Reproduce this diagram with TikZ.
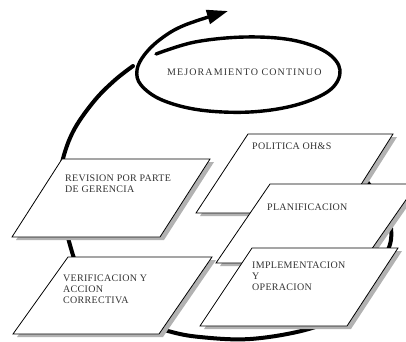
\documentclass[tikz,border=0pt]{standalone}
\usepackage{fontspec}
\setmainfont{Liberation Serif}
\newfontfamily\boxfont[LetterSpace=3]{Liberation Serif}
\newfontfamily\widefont[LetterSpace=11]{Liberation Serif}
\usetikzlibrary{arrows.meta}
\begin{document}
\begin{tikzpicture}[x=1pt,y=-1pt,
  slantbox/.style={draw=black, line width=0.8pt, fill=white},
  boxshadow/.style={fill=black!30},
  boxtext/.style={inner sep=0pt, anchor=north west, align=left, text=black!80,
    font=\boxfont\fontsize{10}{10.7}\selectfont},
  arcline/.style={line width=4pt, line cap=round, line join=round}
]
\clip (0,0) rectangle (406,341);
% big cycle arc (behind the boxes)
\draw[arcline] plot[smooth, tension=0.6] coordinates {
  (350,160) (368,183) (384,205) (391,228) (388,250) (368,285) (340,315)
  (305,330) (250,339) (200,337) (168,331) (130,318) (100,298) (80,272)
  (70,245) (62,210) (60,180) (64,155) (75,128) (95,100) (115,80) (133,66)};
% POLITICA
\fill[boxshadow, shift={(4,3)}] (248,134) -- (393,134) -- (343,213) -- (196,213) -- cycle;
\draw[slantbox] (248,134) -- (393,134) -- (343,213) -- (196,213) -- cycle;
\node[boxtext] (pol) at (252,143) {POLITICA OH\&S};
% PLANIFICACION
\fill[boxshadow, shift={(4,3)}] (270,184) -- (417,184) -- (362,263) -- (216,263) -- cycle;
\draw[slantbox] (270,184) -- (417,184) -- (362,263) -- (216,263) -- cycle;
\node[boxtext] (plan) at (267,204) {PLANIFICACION};
% IMPLEMENTACION
\fill[boxshadow, shift={(4,3)}] (252,248) -- (398,248) -- (347,326) -- (200,326) -- cycle;
\draw[slantbox] (252,248) -- (398,248) -- (347,326) -- (200,326) -- cycle;
\node[boxtext] (impl) at (252,262) {IMPLEMENTACION\\Y\\OPERACION};
% REVISION
\fill[boxshadow, shift={(4,3)}] (62,159) -- (210,159) -- (160,237) -- (12,237) -- cycle;
\draw[slantbox] (62,159) -- (210,159) -- (160,237) -- (12,237) -- cycle;
\node[boxtext] (rev) at (65,175) {REVISION POR PARTE\\DE GERENCIA};
% VERIFICACION
\fill[boxshadow, shift={(4,3)}] (68,257) -- (212,257) -- (159,334) -- (13,334) -- cycle;
\draw[slantbox] (68,257) -- (212,257) -- (159,334) -- (13,334) -- cycle;
\node[boxtext] (ver) at (63,275) {VERIFICACION Y\\ACCION\\CORRECTIVA};
% ellipse loop continuing into the arrow head
\draw[arcline, line width=3.4pt, -{Triangle[length=21pt,width=14pt]}]
  plot[smooth, tension=0.6] coordinates {
  (156,54) (195,42) (245,37) (292,40) (326,52) (340,70) (330,90) (296,105)
  (250,112) (200,110) (162,100) (141,85) (137,70) (145,54) (162,38) (185,25) (228,11)};
\node[inner sep=0pt, anchor=base west, text=black!80,
  font=\widefont\fontsize{10}{12}\selectfont] (mej) at (167,75) {MEJORAMIENTO CONTINUO};
\end{tikzpicture}
\end{document}
